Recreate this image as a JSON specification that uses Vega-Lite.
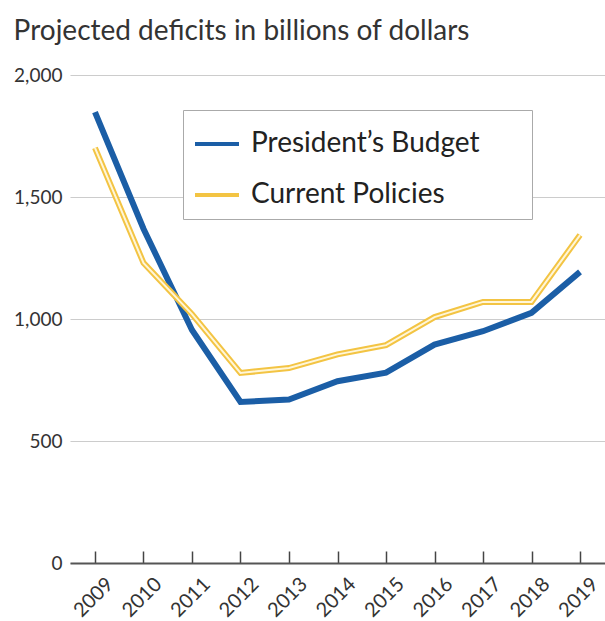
{
  "$schema": "https://vega.github.io/schema/vega-lite/v6.json",
  "width": 535,
  "height": 488,
  "autosize": {"type": "none"},
  "padding": {"left": 70, "top": 75, "right": 0, "bottom": 58},
  "background": "white",
  "title": {
    "text": "Projected deficits in billions of dollars",
    "anchor": "start",
    "frame": "bounds",
    "font": "Lato",
    "fontSize": 28,
    "fontWeight": "normal",
    "color": "#333333",
    "offset": 20
  },
  "config": {"view": {"stroke": null}},
  "data": {
    "values": [
      {"year": 2009, "series": "President’s Budget", "deficit": 1848},
      {"year": 2010, "series": "President’s Budget", "deficit": 1370},
      {"year": 2011, "series": "President’s Budget", "deficit": 955},
      {"year": 2012, "series": "President’s Budget", "deficit": 660},
      {"year": 2013, "series": "President’s Budget", "deficit": 670},
      {"year": 2014, "series": "President’s Budget", "deficit": 745},
      {"year": 2015, "series": "President’s Budget", "deficit": 780},
      {"year": 2016, "series": "President’s Budget", "deficit": 895},
      {"year": 2017, "series": "President’s Budget", "deficit": 950},
      {"year": 2018, "series": "President’s Budget", "deficit": 1025},
      {"year": 2019, "series": "President’s Budget", "deficit": 1193},
      {"year": 2009, "series": "Current Policies", "deficit": 1701},
      {"year": 2010, "series": "Current Policies", "deficit": 1230},
      {"year": 2011, "series": "Current Policies", "deficit": 1020},
      {"year": 2012, "series": "Current Policies", "deficit": 779},
      {"year": 2013, "series": "Current Policies", "deficit": 799},
      {"year": 2014, "series": "Current Policies", "deficit": 855},
      {"year": 2015, "series": "Current Policies", "deficit": 893},
      {"year": 2016, "series": "Current Policies", "deficit": 1008},
      {"year": 2017, "series": "Current Policies", "deficit": 1070},
      {"year": 2018, "series": "Current Policies", "deficit": 1070},
      {"year": 2019, "series": "Current Policies", "deficit": 1344}
    ]
  },
  "encoding": {
    "x": {
      "field": "year",
      "type": "quantitative",
      "scale": {"domain": [2008.485, 2019.515], "nice": false, "zero": false},
      "axis": {
        "title": null,
        "values": [2009, 2010, 2011, 2012, 2013, 2014, 2015, 2016, 2017, 2018, 2019],
        "format": "d",
        "grid": false,
        "labelAngle": -45,
        "labelAlign": "right",
        "labelBaseline": "alphabetic",
        "labelFont": "Lato",
        "labelFontSize": 20,
        "labelColor": "#333333",
        "labelPadding": 34,
        "labelOffset": 19,
        "tickSize": -12,
        "tickColor": "#444444",
        "tickWidth": 1.5,
        "domainColor": "#555555",
        "domainWidth": 2,
        "labelFlush": false,
        "labelOverlap": false
      }
    },
    "y": {
      "field": "deficit",
      "type": "quantitative",
      "scale": {"domain": [0, 2000], "nice": false},
      "axis": {
        "title": null,
        "values": [0, 500, 1000, 1500, 2000],
        "format": ",d",
        "domain": false,
        "ticks": false,
        "grid": true,
        "gridColor": "#cccccc",
        "gridWidth": 1.2,
        "labelFont": "Lato",
        "labelFontSize": 19,
        "labelColor": "#333333",
        "labelPadding": 8
      }
    }
  },
  "layer": [
    {
      "mark": {"type": "line", "strokeWidth": 6},
      "encoding": {
        "color": {
          "field": "series",
          "type": "nominal",
          "scale": {
            "domain": ["President’s Budget", "Current Policies"],
            "range": ["#1b5ea6", "#f3c443"]
          },
          "legend": {
            "orient": "none",
            "legendX": 113,
            "legendY": 35,
            "title": null,
            "symbolType": "stroke",
            "symbolSize": 1936,
            "symbolStrokeWidth": 4,
            "labelFont": "Lato",
            "labelFontSize": 28,
            "labelColor": "#222222",
            "labelOffset": 10,
            "labelLimit": 600,
            "labelExpr": "datum.label + '\u2800\u2800'",
            "fillColor": "white",
            "strokeColor": "#aaaaaa",
            "padding": 10,
            "rowPadding": 13
          }
        }
      }
    },
    {
      "transform": [{"filter": "datum.series == 'Current Policies'"}],
      "mark": {"type": "line", "strokeWidth": 2, "color": "#fff6d8"},
      "encoding": {}
    }
  ]
}
